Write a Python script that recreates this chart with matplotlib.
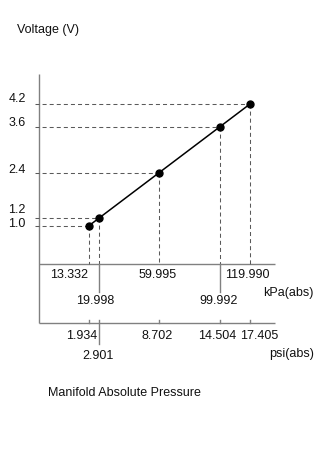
import matplotlib
matplotlib.use("Agg")
import matplotlib.pyplot as plt
from matplotlib.transforms import Affine2D, blended_transform_factory

# ---- data ----
kpa = [13.332, 19.998, 59.995, 99.992, 119.990]
psi = [1.934, 2.901, 8.702, 14.504, 17.405]
voltage = [1.0, 1.2, 2.4, 3.6, 4.2]
kpa_labels = ["13.332", "19.998", "59.995", "99.992", "119.990"]
psi_labels = ["1.934", "2.901", "8.702", "14.504", "17.405"]
volt_labels = ["1.0", "1.2", "2.4", "3.6", "4.2"]

# ---- layout ----
W, H = 330, 449
plt.rcParams['font.family'] = ['Liberation Sans', 'DejaVu Sans']
plt.rcParams['lines.scale_dashes'] = False
FS = 9
TXT = "#111111"
AX_C = "#808080"
DASH_C = "#5a5a5a"
DASH = (0, (2.9, 2.2))

fig = plt.figure(figsize=(W / 100, H / 100), dpi=100)
fig.patch.set_facecolor("white")
ax = fig.add_axes([38.5 / W, (H - 263.6) / H, 236.5 / W, 189.7 / H])
ax.set_xlim(-20.2, 136.8)
ax.set_ylim(0, 5)
ax.axis("off")

# pixel (from top) -> voltage data value
def v_px(y):
    return (263.6 - y) / 37.94

def x_px(x):
    return -20.2 + (x - 38.5) / 236.5 * 157.0

pix = Affine2D().scale(1, -1).translate(0, H)
tr_xdata = blended_transform_factory(ax.transData, pix)
tr_pix = pix

x0 = ax.get_xlim()[0]
x1 = ax.get_xlim()[1]
psi_v = v_px(323.3)

# axes lines
ax.plot([x0, x0], [5, psi_v], color=AX_C, lw=1, clip_on=False, solid_capstyle="butt")
ax.plot([x0, x1], [0, 0], color=AX_C, lw=1, clip_on=False, solid_capstyle="butt")
ax.plot([x0, x1], [psi_v, psi_v], color=AX_C, lw=1, clip_on=False, solid_capstyle="butt")

# dashed guide lines
xstart = x_px(35)
for k, v in zip(kpa, voltage):
    ax.plot([xstart, k], [v, v], color=DASH_C, lw=0.75, linestyle=DASH, clip_on=False)
    ax.plot([k, k], [v, 0], color=DASH_C, lw=0.75, linestyle=DASH, clip_on=False)

# kPa long ticks for the staggered (second row) labels
kpa_row = [0, 1, 0, 1, 0]
for k, r in zip(kpa, kpa_row):
    if r == 1:
        ax.plot([k, k], [0, v_px(292)], color=AX_C, lw=1, clip_on=False)

# psi ticks (positioned at the matching kPa locations)
psi_row = [0, 1, 0, 0, 0]
for k, r in zip(kpa, psi_row):
    if r == 1:
        ax.plot([k, k], [v_px(320), v_px(344)], color=AX_C, lw=1, clip_on=False)
    else:
        ax.plot([k, k], [psi_v, v_px(320)], color=AX_C, lw=1, clip_on=False)

# data line and points
ax.plot(kpa, voltage, color="black", lw=1.1, marker="o", markersize=5,
        markerfacecolor="black", markeredgecolor="black", clip_on=False, zorder=5)

# kPa tick labels
kpa_dx = [-19.5, -3.7, -1.5, -0.7, -2.7]
kpa_base = [278, 304]
for k, lab, r, dx in zip(kpa, kpa_labels, kpa_row, kpa_dx):
    xp = ax.transData.transform((k, 0))[0] + dx
    ax.text(xp, kpa_base[r], lab, transform=tr_pix, ha="center", va="baseline",
            fontsize=FS, color=TXT)

# psi tick labels
psi_dx = [-7.3, -0.8, -2.2, -2.0, 9.3]
psi_base = [339, 359]
for k, lab, r, dx in zip(kpa, psi_labels, psi_row, psi_dx):
    xp = ax.transData.transform((k, 0))[0] + dx
    ax.text(xp, psi_base[r], lab, transform=tr_pix, ha="center", va="baseline",
            fontsize=FS, color=TXT)

# voltage labels
volt_base = [227, 213.3, 172.7, 126, 102.3]
for lab, b in zip(volt_labels, volt_base):
    ax.text(8.5, b, lab, transform=tr_pix, ha="left", va="baseline",
            fontsize=FS, color=TXT)

# unit / title labels
ax.text(263.5, 296, "kPa(abs)", transform=tr_pix, ha="left", va="baseline", fontsize=FS, color=TXT)
ax.text(269, 357.5, "psi(abs)", transform=tr_pix, ha="left", va="baseline", fontsize=FS, color=TXT)
ax.text(16.7, 33, "Voltage (V)", transform=tr_pix, ha="left", va="baseline", fontsize=FS, color=TXT)
ax.text(47.7, 396.5, "Manifold Absolute Pressure", transform=tr_pix, ha="left", va="baseline",
        fontsize=FS, color=TXT)

fig.savefig("out.png", dpi=100, facecolor="white")
